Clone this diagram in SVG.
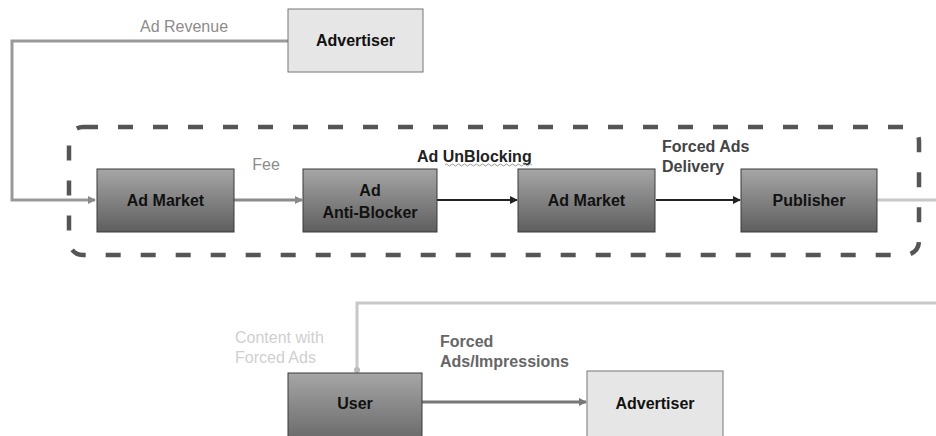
<svg xmlns="http://www.w3.org/2000/svg" width="936" height="436" viewBox="0 0 936 436">
<style>
.dark{fill:url(#gDark);stroke:#3a3a3a;stroke-width:1}
.light{fill:#e6e6e6;stroke:#777;stroke-width:1}
.bt{font-family:"Liberation Sans",Arial,sans-serif;font-size:16px;font-weight:bold;fill:#111;text-anchor:middle}
.lbl{font-family:"Liberation Sans",Arial,sans-serif;font-size:16px}
.c{fill:none}
</style>
<defs>
<linearGradient id="gDark" x1="0" y1="0" x2="0" y2="1">
<stop offset="0" stop-color="#a6a6a6"/>
<stop offset="1" stop-color="#5e5e5e"/>
</linearGradient>
<marker id="aGray" markerWidth="8" markerHeight="8" refX="7" refY="4" orient="auto" markerUnits="userSpaceOnUse">
<path d="M0,0 L8,4 L0,8 Z" fill="#8a8a8a"/>
</marker>
<marker id="aBlack" markerWidth="8" markerHeight="8" refX="7" refY="4" orient="auto" markerUnits="userSpaceOnUse">
<path d="M0,0 L8,4 L0,8 Z" fill="#222"/>
</marker>
<marker id="aMid" markerWidth="8" markerHeight="8" refX="7" refY="4" orient="auto" markerUnits="userSpaceOnUse">
<path d="M0,0 L8,4 L0,8 Z" fill="#777"/>
</marker>
<marker id="aLight" markerWidth="8" markerHeight="8" refX="4" refY="4" orient="auto" markerUnits="userSpaceOnUse">
<circle cx="4" cy="4" r="3" fill="#bbb"/>
</marker>
</defs>
<rect width="936" height="436" fill="#fff"/>

<g id="boundary">
<rect x="69" y="127" width="850" height="128" rx="14" fill="none" stroke="#555" stroke-width="4.5" stroke-dasharray="15 20"/>
</g>

<g id="connectors">
<path class="c" d="M288,41 H12 V200 H95" stroke="#999" stroke-width="3" marker-end="url(#aGray)"/>
<path class="c" d="M234,200 H302" stroke="#8a8a8a" stroke-width="3" marker-end="url(#aGray)"/>
<path class="c" d="M437,200 H517" stroke="#222" stroke-width="2" marker-end="url(#aBlack)"/>
<path class="c" d="M656,200 H740" stroke="#222" stroke-width="2" marker-end="url(#aBlack)"/>
<path class="c" d="M877,200 H936" stroke="#c8c8c8" stroke-width="3"/>
<path class="c" d="M936,303 H357 V370" stroke="#c8c8c8" stroke-width="3" marker-end="url(#aLight)"/>
<path class="c" d="M422,402 H586" stroke="#777" stroke-width="3" marker-end="url(#aMid)"/>
</g>

<g id="labels">
<text class="lbl" x="184" y="32" text-anchor="middle" fill="#8c8c8c">Ad Revenue</text>
<text class="lbl" x="266" y="170" text-anchor="middle" fill="#8c8c8c">Fee</text>
<text class="lbl" x="417" y="162" font-weight="bold" fill="#222">Ad UnBlocking</text>
<path d="M445,165 q1.5,-2 3,0 t3,0 t3,0 t3,0 t3,0 t3,0 t3,0 t3,0 t3,0 t3,0 t3,0 t3,0 t3,0 t3,0 t3,0 t3,0 t3,0 t3,0 t3,0 t3,0 t3,0 t3,0 t3,0 t3,0 t3,0 t3,0 t3,0 t3,0 t3,0" fill="none" stroke="#999" stroke-width="1"/>
<text class="lbl" x="662" y="152" font-weight="bold" fill="#444">Forced Ads</text>
<text class="lbl" x="662" y="172" font-weight="bold" fill="#444">Delivery</text>
<text class="lbl" x="235" y="343" font-size="15" fill="#cfcfcf">Content with</text>
<text class="lbl" x="235" y="363" font-size="15" fill="#cfcfcf">Forced Ads</text>
<text class="lbl" x="440" y="347" font-weight="bold" fill="#666">Forced</text>
<text class="lbl" x="440" y="367" font-weight="bold" fill="#666">Ads/Impressions</text>
</g>

<g id="advertiser-top">
<rect class="light" x="288" y="9" width="135" height="63"/>
<text class="bt" x="355.5" y="46">Advertiser</text>
</g>

<g id="ad-market-1">
<rect class="dark" x="97" y="169" width="137" height="63"/>
<text class="bt" x="165.5" y="206">Ad Market</text>
</g>

<g id="anti-blocker">
<rect class="dark" x="303" y="169" width="134" height="63"/>
<text class="bt" x="370" y="196">Ad</text>
<text class="bt" x="370" y="218">Anti-Blocker</text>
</g>

<g id="ad-market-2">
<rect class="dark" x="518" y="169" width="137" height="63"/>
<text class="bt" x="586.5" y="206">Ad Market</text>
</g>

<g id="publisher">
<rect class="dark" x="741" y="169" width="136" height="63"/>
<text class="bt" x="809" y="206">Publisher</text>
</g>

<g id="user">
<rect class="dark" x="288" y="373" width="134" height="80"/>
<text class="bt" x="355" y="409">User</text>
</g>

<g id="advertiser-bottom">
<rect class="light" x="587" y="371" width="136" height="80"/>
<text class="bt" x="655" y="409">Advertiser</text>
</g>
</svg>
